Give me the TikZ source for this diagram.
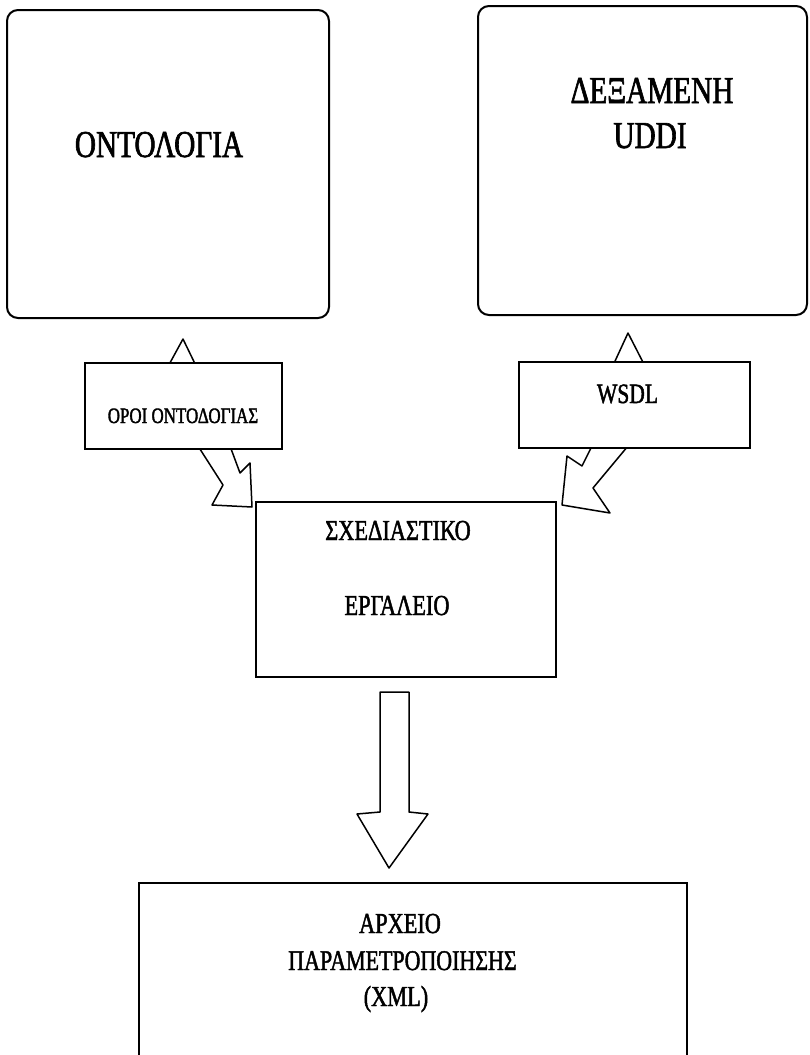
\documentclass[tikz,border=0pt]{standalone}
\usepackage{fontspec}
\setmainfont{Liberation Serif}[FakeStretch=0.77,FakeBold=1.6]
\begin{document}
\begin{tikzpicture}[x=1pt,y=-1pt,
  panel/.style={draw, line width=2pt, fill=white, rounded corners=11pt, inner sep=0pt},
  plainbox/.style={draw, line width=1.8pt, fill=white, inner sep=0pt},
  blockarrow/.style={draw, line width=1.5pt, fill=white, line join=round},
  lbl/.style={anchor=base, inner sep=0pt},
  big/.style={font=\fontsize{38}{45}\selectfont},
  mid/.style={font=\fontsize{29}{35}\selectfont},
  small/.style={font=\fontsize{22}{26}\selectfont}]
\useasboundingbox (0,0) rectangle (810,1055);
\begin{scope}
\clip (0,0) rectangle (810,1055);

% upward arrow heads, partly hidden behind the label boxes
\draw[blockarrow] (165,372) -- (183,339) -- (199,372) -- cycle;
\draw[blockarrow] (610,372) -- (628,333) -- (648,372) -- cycle;

% large rounded panels
\node[panel, minimum width=322pt, minimum height=308pt] (onto) at (168,164) {};
\node[panel, minimum width=329pt, minimum height=309pt] (uddi) at (642.5,160.5) {};

% bent block arrows feeding the design tool
\draw[blockarrow] (198,446) -- (223,485) -- (212,505) -- (252,507) -- (250,463) -- (240,473) -- (230,446) -- cycle;
\draw[blockarrow] (592,446) -- (582,466) -- (567,456) -- (562,505) -- (610,513) -- (593,488) -- (628,446) -- cycle;

% label boxes
\node[plainbox, minimum width=197pt, minimum height=86pt] (terms) at (183.5,406) {};
\node[plainbox, minimum width=231pt, minimum height=86pt] (wsdl) at (634.5,405) {};

% design tool
\node[plainbox, minimum width=300pt, minimum height=175pt] (tool) at (406,589.5) {};

% downward block arrow to the configuration file
\draw[blockarrow] (380,692) -- (409,692) -- (409,812) -- (428,814) -- (389,868) -- (357,814) -- (380,812) -- cycle;

% configuration file box (runs past the lower edge)
\node[plainbox, minimum width=548pt, minimum height=200pt] (xmlfile) at (413,983) {};
\end{scope}

% texts
\node[lbl, big] (t1) at (159,157) {ΟΝΤΟΛΟΓΙΑ};
\node[lbl, big] (t2) at (652,103) {ΔΕΞΑΜΕΝΗ};
\node[lbl, big] (t3) at (650,148) {UDDI};
\node[lbl, small] (t4) at (183,423) {ΟΡΟΙ ΟΝΤΟΔΟΓΙΑΣ};
\node[lbl, font=\fontsize{28}{34}\selectfont] (t5) at (627.5,403) {WSDL};
\node[lbl, mid] (t6) at (398,540) {ΣΧΕΔΙΑΣΤΙΚΟ};
\node[lbl, mid] (t7) at (397,615) {ΕΡΓΑΛΕΙΟ};
\node[lbl, mid] (t8) at (400,933) {ΑΡΧΕΙΟ};
\node[lbl, font=\fontsize{28.5}{34}\selectfont] (t9) at (402.5,970) {ΠΑΡΑΜΕΤΡΟΠΟΙΗΣΗΣ};
\node[lbl, mid] (t10) at (396,1006) {(XML)};
\end{tikzpicture}
\end{document}
